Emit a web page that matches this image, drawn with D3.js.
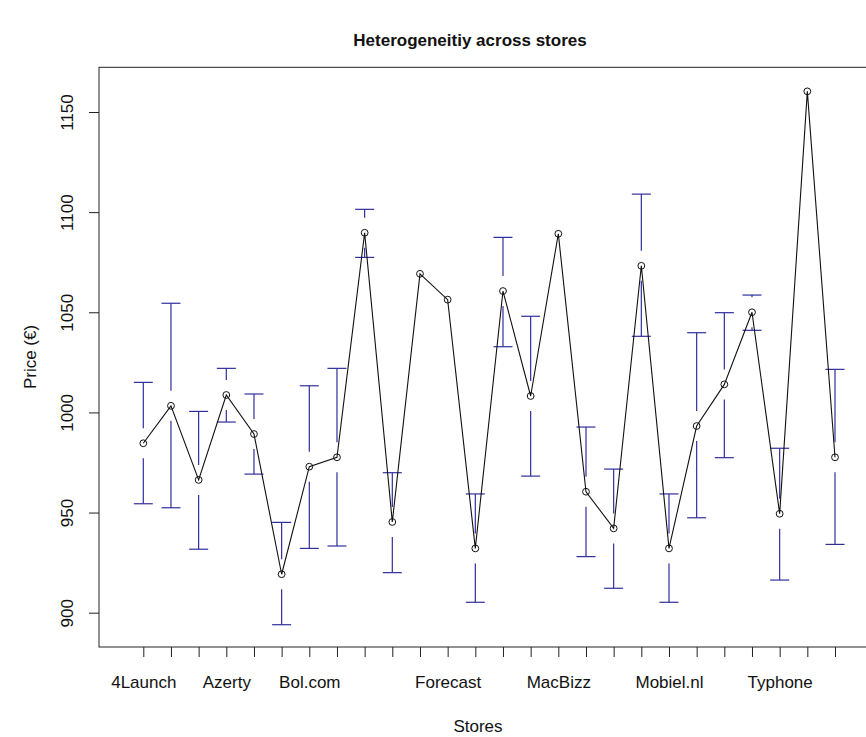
<!DOCTYPE html>
<html>
<head>
<meta charset="utf-8">
<script src="https://cdn.jsdelivr.net/npm/d3@7"></script>
<style>
  html, body { margin: 0; padding: 0; background: #fff; }
  svg { display: block; }
  text { font-family: "Liberation Sans", Arial, sans-serif; fill: #111; }
</style>
</head>
<body>
<svg id="chart" width="866" height="737"></svg>
<script>
// Mean price per store with confidence interval bounds (null = single observation)
const storeIndex = d3.range(1, 27);
const tickLabels = ["4Launch", "", "", "Azerty", "", "", "Bol.com", "", "", "", "",
  "Forecast", "", "", "", "MacBizz", "", "", "", "Mobiel.nl", "", "", "", "Typhone", "", ""];
const meanPrice = [984.6, 1003.3, 966.3, 1008.7, 989.2, 919.2, 972.9, 977.6, 1089.7, 945.3,
  1069.2, 1056.3, 932.1, 1060.6, 1008.2, 1089.2, 960.4, 942.1, 1073.2, 932.1,
  993.2, 1014.0, 1050.0, 949.4, 1160.3, 977.6];
const upperCI = [1015.0, 1054.5, 1000.5, 1022.0, 1009.2, 945.1, 1013.3, 1022.0, 1101.4, 969.9,
  null, null, 959.3, 1087.4, 1048.0, null, 992.7, 971.7, 1109.0, 959.3,
  1039.8, 1049.8, 1058.6, 982.1, null, 1021.5];
const lowerCI = [954.4, 952.4, 931.7, 995.2, 969.2, 894.0, 932.1, 933.3, 1077.4, 920.0,
  null, null, 905.2, 1032.8, 968.2, null, 928.0, 912.2, 1038.0, 905.2,
  947.4, 977.4, 1041.0, 916.3, null, 934.1];
const yTicks = [900, 950, 1000, 1050, 1100, 1150];

const svg = d3.select("#chart");
const box = { left: 99, right: 880, top: 67.3, bottom: 647 };

const x = d3.scaleLinear().domain([1, 26]).range([143.3, 835]);
const y = d3.scaleLinear().domain([900, 1150]).range([612.7, 112]);

const barColor = "#2f2f9c";
const gap = 15;   // space left around each mean marker
const capHalf = 9.5;

// plot frame
svg.append("rect")
  .attr("x", box.left).attr("y", box.top)
  .attr("width", box.right - box.left).attr("height", box.bottom - box.top)
  .attr("fill", "none").attr("stroke", "#222").attr("stroke-width", 1);

// y axis
const yAxis = d3.axisLeft(y).tickValues(yTicks).tickSize(10).tickFormat(d3.format("d"));
const gy = svg.append("g").attr("transform", `translate(${box.left},0)`).call(yAxis);
gy.select(".domain").remove();
gy.selectAll(".tick line").attr("stroke", "#222");
gy.selectAll(".tick text")
  .attr("x", null).attr("dy", null)
  .attr("transform", "translate(-26,0) rotate(-90)")
  .attr("text-anchor", "middle")
  .attr("font-size", 17)
  .attr("fill", "#222");

// x axis
const xAxis = d3.axisBottom(x).tickValues(storeIndex).tickSize(10)
  .tickFormat(i => tickLabels[i - 1]);
const gx = svg.append("g").attr("transform", `translate(0,${box.bottom})`).call(xAxis);
gx.select(".domain").remove();
gx.selectAll(".tick line").attr("stroke", "#222");
gx.selectAll(".tick text")
  .attr("y", 41).attr("dy", null)
  .attr("font-size", 17)
  .attr("fill", "#222");

// confidence interval bars
const bars = storeIndex.map((s, i) => ({ s, m: meanPrice[i], hi: upperCI[i], lo: lowerCI[i] }))
  .filter(d => d.hi !== null);
const gBars = svg.append("g").attr("stroke", barColor).attr("stroke-width", 1.2).attr("fill", "none");
bars.forEach(d => {
  const cx = x(d.s), ym = y(d.m), yh = y(d.hi), yl = y(d.lo);
  if (ym - gap > yh) gBars.append("line").attr("x1", cx).attr("x2", cx).attr("y1", yh).attr("y2", ym - gap);
  if (ym + gap < yl) gBars.append("line").attr("x1", cx).attr("x2", cx).attr("y1", ym + gap).attr("y2", yl);
  gBars.append("line").attr("x1", cx - capHalf).attr("x2", cx + capHalf).attr("y1", yh).attr("y2", yh);
  gBars.append("line").attr("x1", cx - capHalf).attr("x2", cx + capHalf).attr("y1", yl).attr("y2", yl);
});

// connecting line through the means
const line = d3.line().x((d, i) => x(storeIndex[i])).y(d => y(d));
svg.append("path").datum(meanPrice)
  .attr("d", line).attr("fill", "none").attr("stroke", "#111").attr("stroke-width", 1.1);

// mean markers
svg.append("g").selectAll("circle").data(meanPrice).join("circle")
  .attr("cx", (d, i) => x(storeIndex[i])).attr("cy", d => y(d))
  .attr("r", 3.4).attr("fill", "none").attr("stroke", "#111").attr("stroke-width", 1);

// titles
svg.append("text").attr("x", 470).attr("y", 46).attr("text-anchor", "middle")
  .attr("font-size", 17).attr("font-weight", "bold").text("Heterogeneitiy across stores");
svg.append("text").attr("x", 478).attr("y", 732).attr("text-anchor", "middle")
  .attr("font-size", 17).attr("fill", "#222").text("Stores");
svg.append("text").attr("transform", "translate(36,357) rotate(-90)").attr("text-anchor", "middle")
  .attr("font-size", 17).attr("fill", "#222").text("Price (€)");
</script>
</body>
</html>
